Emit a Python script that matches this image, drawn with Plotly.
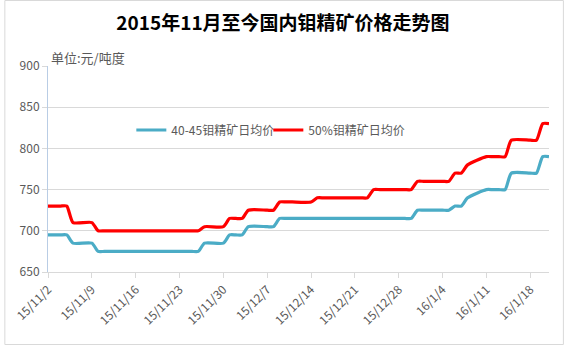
import plotly.graph_objects as go
import pandas as pd

title_text = "2015年11月至今国内钼精矿价格走势图"
unit_text = "单位:元/吨度"
series_names = ["40-45钼精矿日均价", "50%钼精矿日均价"]

# trading days 2015-11-02 .. 2016-01-21 (weekdays)
dates = [d.strftime("%Y-%m-%d") for d in pd.bdate_range("2015-11-02", "2016-01-21")]

price_40_45 = [
    695, 695, 695, 695, 685,            # Nov 2-6
    685, 675, 675, 675, 675,            # Nov 9-13
    675, 675, 675, 675, 675,            # Nov 16-20
    675, 675, 675, 675, 685,            # Nov 23-27
    685, 695, 695, 695, 705,            # Nov 30 - Dec 4
    705, 705, 715, 715, 715,            # Dec 7-11
    715, 715, 715, 715, 715,            # Dec 14-18
    715, 715, 715, 715, 715,            # Dec 21-25
    715, 715, 715, 725, 725,            # Dec 28 - Jan 1
    725, 725, 730, 730, 740,            # Jan 4-8
    750, 750, 750, 750, 770,            # Jan 11-15
    770, 770, 790, 790,                 # Jan 18-21
]
price_50 = [
    730, 730, 730, 730, 710,
    710, 700, 700, 700, 700,
    700, 700, 700, 700, 700,
    700, 700, 700, 700, 705,
    705, 715, 715, 715, 725,
    725, 725, 735, 735, 735,
    735, 740, 740, 740, 740,
    740, 740, 740, 750, 750,
    750, 750, 750, 760, 760,
    760, 760, 770, 770, 780,
    790, 790, 790, 790, 810,
    810, 810, 830, 830,
]

tick_dates = ["2015-11-02", "2015-11-09", "2015-11-16", "2015-11-23", "2015-11-30",
              "2015-12-07", "2015-12-14", "2015-12-21", "2015-12-28", "2016-01-04",
              "2016-01-11", "2016-01-18"]
tick_labels = ["15/11/2", "15/11/9", "15/11/16", "15/11/23", "15/11/30", "15/12/7",
               "15/12/14", "15/12/21", "15/12/28", "16/1/4", "16/1/11", "16/1/18"]
y_ticks = [650, 700, 750, 800, 850, 900]

colors = ["#4BACC6", "#FF0000"]
font_family = "Noto Sans CJK SC, Noto Sans, sans-serif"

W, H = 566, 346
ml, mr, mt, mb = 44, 17, 66, 74
pw, ph = W - ml - mr, H - mt - mb

fig = go.Figure()
for name, vals, c in zip(series_names, [price_40_45, price_50], colors):
    fig.add_trace(go.Scatter(
        x=dates, y=vals, name=name, mode="lines",
        line=dict(color=c, width=3.2, shape="spline", smoothing=0.6),
    ))

def px_x(p):
    return (p - ml) / pw

def px_y(p):
    return (H - mb - p) / ph

fig.update_layout(
    width=W, height=H,
    margin=dict(l=ml, r=mr, t=mt, b=mb),
    paper_bgcolor="white", plot_bgcolor="white",
    font=dict(family=font_family, size=12, color="#595959"),
    title=dict(text="<b>" + title_text + "</b>", x=0.5, xanchor="center",
               y=1 - 23 / H, yanchor="middle",
               font=dict(size=19, color="#000000", family=font_family)),
    showlegend=True,
    legend=dict(orientation="h", x=px_x(128), xanchor="left",
                y=px_y(130), yanchor="middle", bgcolor="rgba(0,0,0,0)",
                font=dict(size=12, color="#595959"), itemwidth=30,
                entrywidth=92, entrywidthmode="pixels",
                traceorder="normal"),
    xaxis=dict(type="date", range=[dates[0], dates[-1]],
               tickmode="array", tickvals=tick_dates, ticktext=tick_labels,
               tickangle=-45, showgrid=False, showline=True,
               linecolor="#D9D9D9", linewidth=1, ticks="outside",
               ticklen=5, tickcolor="#D9D9D9",
               tickfont=dict(size=12, color="#595959"), zeroline=False),
    yaxis=dict(range=[650, 900], tickmode="array", tickvals=y_ticks,
               showgrid=True, gridcolor="#D9D9D9", gridwidth=1,
               showline=True, linecolor="#B9CDE5", linewidth=1,
               ticks="outside", ticklen=5, tickcolor="#D9D9D9",
               tickfont=dict(size=12, color="#595959"), zeroline=False),
    annotations=[dict(text=unit_text, xref="paper", yref="paper",
                      x=px_x(45), y=px_y(57), xanchor="left", yanchor="middle",
                      showarrow=False, font=dict(size=13, color="#595959"))],
    shapes=[dict(type="rect", xref="paper", yref="paper",
                 x0=px_x(0.5), x1=px_x(W - 2.5), y0=px_y(H - 1.5), y1=px_y(0.5),
                 line=dict(color="#D9D9D9", width=1), layer="below")],
)

fig.write_html("out.html")
